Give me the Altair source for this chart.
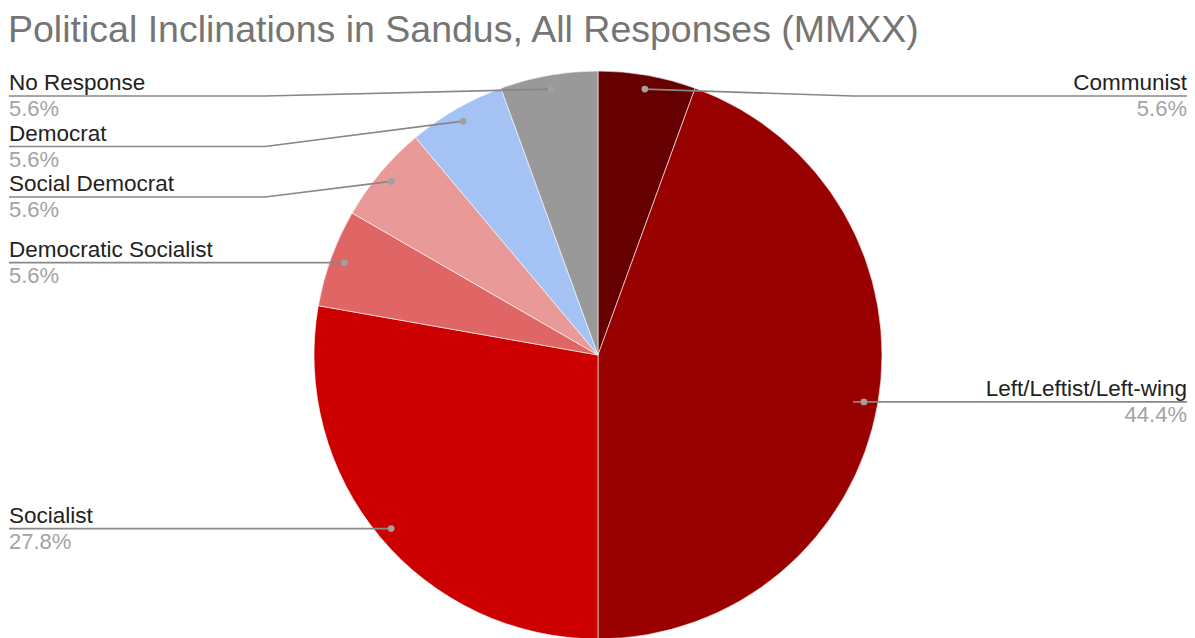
import math
import altair as alt
import pandas as pd

# ---- data ----
categories = ["Communist", "Left/Leftist/Left-wing", "Socialist",
              "Democratic Socialist", "Social Democrat", "Democrat", "No Response"]
counts = [1, 8, 5, 1, 1, 1, 1]
colors = ["#660000", "#990000", "#cc0000", "#e06666", "#ea9999", "#a4c2f4", "#999999"]
title_text = "Political Inclinations in Sandus, All Responses (MMXX)"

# ---- layout constants (page pixel space) ----
M = 8
W, H = 1179, 630
CX, CY, R = 598, 355, 284
DOT_R = 270
LEFT_EDGE, RIGHT_EDGE = 9, 1187
ELBOW_L, ELBOW_R = 265, 853
MIN_Y, GAP = 96, 50.5
FONT = "Liberation Sans"

total = sum(counts)
rows = []
cum = 0
for i, (c, v, col) in enumerate(zip(categories, counts, colors)):
    mid = (cum + v / 2) / total * 2 * math.pi
    cum += v
    dx = DOT_R * math.sin(mid)
    dy = -DOT_R * math.cos(mid)
    rows.append(dict(idx=i, cat=c, count=v, pct=f"{v / total * 100:.1f}%",
                     dotx=CX + dx, doty=CY + dy,
                     side="right" if mid < math.pi else "left"))

# simple top-down label push per side
for side in ("left", "right"):
    items = sorted([r for r in rows if r["side"] == side], key=lambda r: r["doty"])
    prev = -1e9
    for r in items:
        y = max(r["doty"], prev + GAP, MIN_Y)
        r["ly"] = y
        prev = y
for r in rows:
    r["edge"] = RIGHT_EDGE if r["side"] == "right" else LEFT_EDGE
    r["elbow"] = ELBOW_R if r["side"] == "right" else ELBOW_L
    r["namey"] = r["ly"] - 6
    r["pcty"] = r["ly"] + 20
    r["cx"] = CX
    r["cy"] = CY

df = pd.DataFrame(rows)

line_rows = []
for r in rows:
    line_rows.append(dict(cat=r["cat"], k=0, x=r["dotx"], y=r["doty"]))
    line_rows.append(dict(cat=r["cat"], k=1, x=r["elbow"], y=r["ly"]))
    line_rows.append(dict(cat=r["cat"], k=2, x=r["edge"], y=r["ly"]))
ldf = pd.DataFrame(line_rows)

xs = alt.Scale(domain=[M, M + W], nice=False, zero=False)
ys = alt.Scale(domain=[M, M + H], nice=False, zero=False, reverse=True)

base = alt.Chart(df)

pie = base.mark_arc(radius=R, stroke="white", strokeWidth=0.6).encode(
    theta=alt.Theta("count:Q", stack=True),
    order=alt.Order("idx:Q"),
    color=alt.Color("cat:N", scale=alt.Scale(domain=categories, range=colors), legend=None),
    x=alt.X("cx:Q", scale=xs, axis=None),
    y=alt.Y("cy:Q", scale=ys, axis=None),
)

lines = alt.Chart(ldf).mark_line(color="#888888", strokeWidth=1.7).encode(
    x=alt.X("x:Q", scale=xs, axis=None),
    y=alt.Y("y:Q", scale=ys, axis=None),
    detail="cat:N",
    order="k:Q",
)

dots = base.mark_circle(size=45, color="#a0a0a0", opacity=1).encode(
    x=alt.X("dotx:Q", scale=xs, axis=None),
    y=alt.Y("doty:Q", scale=ys, axis=None),
)

def labels(side, align):
    sub = base.transform_filter(alt.datum.side == side)
    names = sub.mark_text(align=align, baseline="alphabetic", font=FONT,
                          fontSize=22.5, color="#222222").encode(
        x=alt.X("edge:Q", scale=xs, axis=None),
        y=alt.Y("namey:Q", scale=ys, axis=None),
        text="cat:N",
    )
    pcts = sub.mark_text(align=align, baseline="alphabetic", font=FONT,
                         fontSize=22, color="#a3a3a3").encode(
        x=alt.X("edge:Q", scale=xs, axis=None),
        y=alt.Y("pcty:Q", scale=ys, axis=None),
        text="pct:N",
    )
    return names + pcts

title = alt.Chart(pd.DataFrame({"t": [title_text], "x": [8], "y": [42]})).mark_text(
    align="left", baseline="alphabetic", font=FONT, fontSize=37.5, color="#757575"
).encode(
    x=alt.X("x:Q", scale=xs, axis=None),
    y=alt.Y("y:Q", scale=ys, axis=None),
    text="t:N",
)

chart = alt.layer(pie, lines, dots, labels("left", "left"), labels("right", "right"), title).properties(
    width=W, height=H, padding=0, autosize=alt.AutoSizeParams(type="none")
).configure_view(stroke=None)

chart.save("out.html", embed_options={"renderer": "svg", "actions": False})
